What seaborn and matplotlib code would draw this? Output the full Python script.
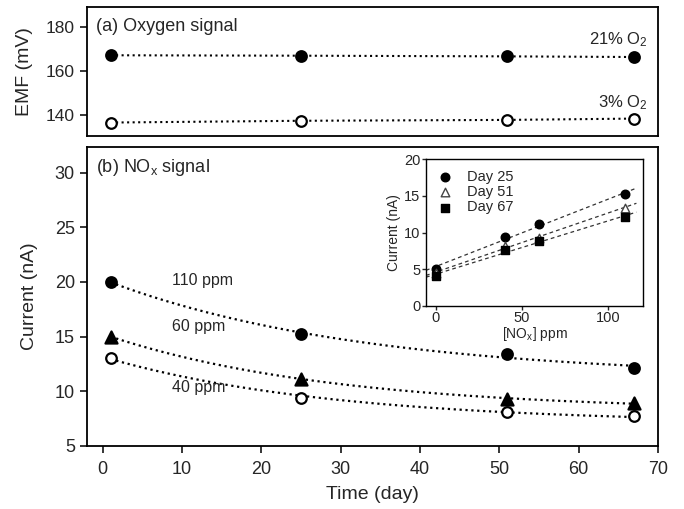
import numpy as np
import pandas as pd
import seaborn as sns
import matplotlib.pyplot as plt

# ---------------- data ----------------
days = [1, 25, 51, 67]
emf_21 = [167.2, 167.0, 166.7, 166.4]
emf_3 = [136.5, 137.3, 137.7, 138.3]

cur_110 = [20.0, 15.2, 13.4, 12.1]
cur_60 = [15.0, 11.1, 9.3, 8.9]
cur_40 = [13.0, 9.4, 8.1, 7.7]

nox_ppm = [0, 40, 60, 110]
inset_day25 = [5.0, 9.4, 11.1, 15.2]
inset_day51 = [4.4, 8.2, 9.3, 13.4]
inset_day67 = [4.0, 7.6, 8.8, 12.1]


def exp_fit(x, y):
    """least-squares fit of y = a*exp(-b*x) + c (grid over a mild decay rate b)."""
    x = np.asarray(x, float)
    y = np.asarray(y, float)
    best = None
    for b in np.linspace(0.002, 0.035, 300):
        A = np.column_stack([np.exp(-b * x), np.ones_like(x)])
        coef, *_ = np.linalg.lstsq(A, y, rcond=None)
        err = np.sum((A @ coef - y) ** 2)
        if best is None or err < best[0]:
            best = (err, b, coef)
    _, b, (a, c) = best
    return lambda t: a * np.exp(-b * np.asarray(t)) + c


# ---------------- style ----------------
sns.set_theme(style="ticks")
plt.rcParams['font.family'] = ['Liberation Sans', 'DejaVu Sans']
plt.rcParams['mathtext.fontset'] = 'custom'
plt.rcParams['mathtext.rm'] = 'Liberation Sans'
plt.rcParams['mathtext.it'] = 'Liberation Sans'

fig = plt.figure(figsize=(6.84, 5.09), dpi=100)
ax1 = fig.add_axes([0.1268, 0.733, 0.8352, 0.254])
ax2 = fig.add_axes([0.1268, 0.1244, 0.8352, 0.5876])
ax3 = fig.add_axes([0.6228, 0.3994, 0.3177, 0.2876])

for ax in (ax1, ax2, ax3):
    for s in ax.spines.values():
        s.set_visible(True)
        s.set_linewidth(1.3)
        s.set_color('black')

# ---------------- top panel ----------------
df_top = pd.DataFrame({'day': days * 2,
                       'emf': emf_21 + emf_3,
                       'grp': ['21'] * 4 + ['3'] * 4})
for grp, face in (('21', 'black'), ('3', 'white')):
    d = df_top[df_top.grp == grp]
    sns.lineplot(data=d, x='day', y='emf', ax=ax1, color='black',
                 linestyle=':', linewidth=1.5, legend=False)
    sns.scatterplot(data=d, x='day', y='emf', ax=ax1, s=58, color=face,
                    edgecolor='black', linewidth=1.6, zorder=5, legend=False)
ax1.set_xlim(-2, 70)
ax1.set_ylim(130.4, 189.4)
ax1.set_yticks([140, 160, 180])
ax1.set_xticks([])
ax1.set_xlabel('')
ax1.set_ylabel('EMF (mV)', fontsize=14, labelpad=9)
ax1.tick_params(axis='y', labelsize=12.5, length=5, width=1.3, direction='out')
ax1.text(0.016, 0.843, '(a) Oxygen signal', transform=ax1.transAxes,
         fontsize=13, va='center', ha='left')
ax1.text(0.982, 0.742, '21% O$_2$', transform=ax1.transAxes,
         fontsize=12, va='center', ha='right')
ax1.text(0.982, 0.255, '3% O$_2$', transform=ax1.transAxes,
         fontsize=12, va='center', ha='right')

# ---------------- bottom panel ----------------
xfit = np.linspace(min(days), max(days), 200)
series = [(cur_110, 'o', 'black'), (cur_60, '^', 'black'), (cur_40, 'o', 'white')]
for vals, mk, face in series:
    f = exp_fit(days, vals)
    fit_df = pd.DataFrame({'day': xfit, 'cur': f(xfit)})
    sns.lineplot(data=fit_df, x='day', y='cur', ax=ax2, color='black',
                 linestyle=':', linewidth=1.6, legend=False)
    pts = pd.DataFrame({'day': days, 'cur': vals})
    sns.scatterplot(data=pts, x='day', y='cur', ax=ax2, marker=mk,
                    s=75 if mk == '^' else 58, color=face, edgecolor='black',
                    linewidth=1.6, zorder=5, legend=False)
ax2.set_xlim(-2, 70)
ax2.set_ylim(5, 32.4)
ax2.set_xticks(range(0, 71, 10))
ax2.set_yticks(range(5, 31, 5))
ax2.tick_params(labelsize=13, length=5, width=1.3, direction='out')
ax2.tick_params(axis='x', pad=6)
ax2.set_xlabel('Time (day)', fontsize=14, labelpad=6)
ax2.set_ylabel('Current (nA)', fontsize=14, labelpad=12)
ax2.text(0.016, 0.929, '(b) NO$_x$ signal', transform=ax2.transAxes,
         fontsize=13, va='center', ha='left')
ax2.text(8.7, 20.1, '110 ppm', fontsize=11.5, va='center', ha='left')
ax2.text(8.7, 15.9, '60 ppm', fontsize=11.5, va='center', ha='left')
ax2.text(8.7, 10.3, '40 ppm', fontsize=11.5, va='center', ha='left')

# ---------------- inset ----------------
xin = np.linspace(-5.6, 116.5, 100)
inset_series = [(inset_day25, 'o', 'black', 'Day 25'),
                (inset_day51, '^', 'white', 'Day 51'),
                (inset_day67, 's', 'black', 'Day 67')]
for vals, mk, face, lab in inset_series:
    coef = np.polyfit(nox_ppm, vals, 1)
    fdf = pd.DataFrame({'x': xin, 'y': np.polyval(coef, xin)})
    sns.lineplot(data=fdf, x='x', y='y', ax=ax3, color='#333333',
                 linestyle=(0, (3, 2.5)), linewidth=0.9, legend=False)
for vals, mk, face, lab in inset_series:
    pts = pd.DataFrame({'x': nox_ppm, 'y': vals})
    sns.scatterplot(data=pts, x='x', y='y', ax=ax3, marker=mk, s=38,
                    color=face, edgecolor='black' if face == 'black' else '#444444',
                    linewidth=1.0, zorder=5, label=lab)
ax3.set_xlim(-5.6, 120.5)
ax3.set_ylim(0, 20)
ax3.set_xticks([0, 50, 100])
ax3.set_yticks([0, 5, 10, 15, 20])
ax3.tick_params(labelsize=10.5, length=3, width=1.0, direction='out', pad=1)
for s in ax3.spines.values():
    s.set_linewidth(1.0)
ax3.set_xlabel('[NO$_x$] ppm', fontsize=10, labelpad=0)
ax3.set_ylabel('Current (nA)', fontsize=10, labelpad=2)
leg = ax3.legend(loc='upper left', frameon=False, fontsize=10.5,
                 handletextpad=0.9, borderpad=0.2, labelspacing=0.1,
                 handlelength=1.2, bbox_to_anchor=(0.0, 1.0))

fig.savefig('out.png', dpi=100)
